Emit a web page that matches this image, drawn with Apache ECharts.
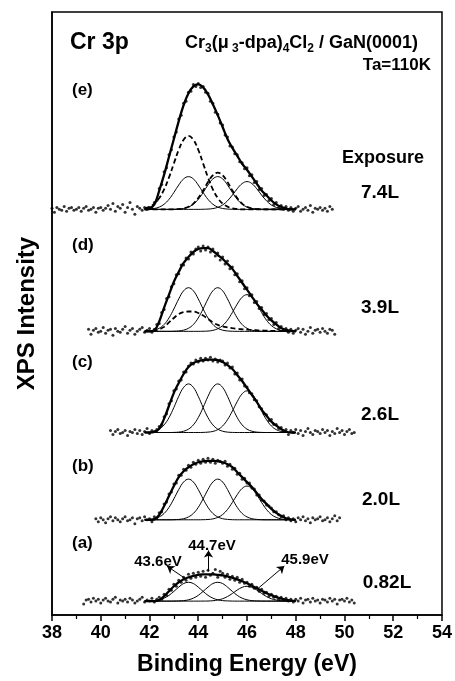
<!DOCTYPE html>
<html><head><meta charset="utf-8">
<script src="https://cdn.jsdelivr.net/npm/echarts@6/dist/echarts.min.js"></script>
<style>html,body{margin:0;padding:0;background:#fff}#c{width:455px;height:681px}</style>
</head><body><div id="c"></div>
<script>
// ---------- data (arbitrary intensity units, relative to each spectrum's baseline) ----------
const spectrumNames = ['(a)', '(b)', '(c)', '(d)', '(e)'];
const exposures = ['0.82L', '2.0L', '2.6L', '3.9L', '7.4L'];
const offsets = [14, 96, 184, 286, 409];
const peakLabels = ['43.6eV', '44.7eV', '45.9eV'];

const fitEnergy = [41.8,42.0,42.2,42.4,42.6,42.8,43.0,43.2,43.4,43.6,43.8,44.0,44.2,44.4,44.6,44.8,
  45.0,45.2,45.4,45.6,45.8,46.0,46.2,46.4,46.6,46.8,47.0,47.2,47.4,47.6,47.8,48.0];

const envA = [0,0,0,1,5,10,15,19,22,24,25.5,26.5,27,27,27,26.5,26,25,23.5,22,20,18,15.5,13,10.5,8,6,4,2.5,1.5,0.5,0];
const envB = [0,0,0.5,5,14,24,34,43,49,53,56,58,59,59.5,59.5,59,58,56,53,48,43,38,33,27,21,16,11,7,4,1.5,0.5,0];
const envC = [0,0,0.5,4,14,27,40,50,59,66,70,72,73,73.5,73.5,73,71,68,64,58,52,45,38,31,23,17,11,7,3.5,1,0,0];
const envD = [0,0,1,10,24,37,50,60,69,75,80,83,84,84,81,77,73,68,63,56,49,42,35,28,22,16,11,7,3.5,1.5,0.5,0];
const envE = [0,1,5,19,35,53,71,89,105,117,124,126,123,116,106,95,83,71,62,54,46,40,33,26,19,14,9,5,2.5,1,0,0];

const compA1 = [0.04,0.2,0.5,1.3,3.0,5.8,9.8,14.1,17.7,19,17.7,14.1,9.8,5.8,3.0,1.3,0.5,0.2,0.04,0,0,0,0,0,0,0,0,0,0,0,0,0];
const compA2 = [0,0,0,0,0,0,0.04,0.2,0.5,1.3,3.0,5.8,9.8,14.1,17.7,19,17.7,14.1,9.8,5.8,3.0,1.3,0.5,0.2,0.04,0,0,0,0,0,0,0];
const compA3 = [0,0,0,0,0,0,0,0,0,0,0,0,0.03,0.1,0.4,1.1,2.4,4.6,7.7,11.2,13.9,15,13.9,11.2,7.7,4.6,2.4,1.1,0.4,0.1,0.03,0];

const compB1 = [0.1,0.4,1.1,2.9,6.4,12.5,21.1,30.5,38.1,41,38.1,30.5,21.1,12.5,6.4,2.9,1.1,0.4,0.1,0,0,0,0,0,0,0,0,0,0,0,0,0];
const compB2 = [0,0,0,0,0,0,0.1,0.4,1.1,2.9,6.4,12.5,21.1,30.5,38.1,41,38.1,30.5,21.1,12.5,6.4,2.9,1.1,0.4,0.1,0,0,0,0,0,0,0];
const compB3 = [0,0,0,0,0,0,0,0,0,0,0,0,0.1,0.3,0.9,2.4,5.3,10.4,17.5,25.3,31.6,34,31.6,25.3,17.5,10.4,5.3,2.4,0.9,0.3,0.1,0];

const compC1 = [0.1,0.4,1.3,3.4,7.7,15.0,25.2,36.5,45.5,49,45.5,36.5,25.2,15.0,7.7,3.4,1.3,0.4,0.1,0,0,0,0,0,0,0,0,0,0,0,0,0];
const compC2 = [0,0,0,0,0,0,0.1,0.4,1.3,3.4,7.7,15.0,25.2,36.5,45.5,49,45.5,36.5,25.2,15.0,7.7,3.4,1.3,0.4,0.1,0,0,0,0,0,0,0];
const compC3 = [0,0,0,0,0,0,0,0,0,0,0,0,0.1,0.4,1.1,2.9,6.6,12.9,21.6,31.2,39.0,42,39.0,31.2,21.6,12.9,6.6,2.9,1.1,0.4,0.1,0];

const compD1 = [0.1,0.4,1.2,3.1,6.9,13.5,22.6,32.7,40.9,44,40.9,32.7,22.6,13.5,6.9,3.1,1.2,0.4,0.1,0,0,0,0,0,0,0,0,0,0,0,0,0];
const compD2 = [0,0,0,0,0,0,0.1,0.4,1.2,3.1,6.9,13.5,22.6,32.7,40.9,44,40.9,32.7,22.6,13.5,6.9,3.1,1.2,0.4,0.1,0,0,0,0,0,0,0];
const compD3 = [0,0,0,0,0,0,0,0,0,0,0,0,0.1,0.3,1.0,2.6,5.8,11.3,19.0,27.5,34.4,37,34.4,27.5,19.0,11.3,5.8,2.6,1.0,0.3,0.1,0];
const dashD  = [0,0,0.5,2,4.5,9,13.5,17.5,19.5,20,20,18.5,16,12.5,9,6.5,5,4,3.2,2.6,2.1,1.7,1.4,1.1,0.9,0.7,0.5,0.3,0.2,0.1,0,0];

const compE1 = [0.1,0.3,0.9,2.3,5.2,10.1,17.0,24.6,30.7,33,30.7,24.6,17.0,10.1,5.2,2.3,0.9,0.3,0.1,0,0,0,0,0,0,0,0,0,0,0,0,0];
const compE2 = [0,0,0,0,0,0,0.1,0.3,0.9,2.3,5.2,10.1,17.0,24.6,30.7,33,30.7,24.6,17.0,10.1,5.2,2.3,0.9,0.3,0.1,0,0,0,0,0,0,0];
const compE3 = [0,0,0,0,0,0,0,0,0,0,0,0,0.1,0.3,0.8,2.0,4.4,8.6,14.4,20.8,26.0,28,26.0,20.8,14.4,8.6,4.4,2.0,0.8,0.3,0.1,0];
const dashE1 = [1.1,2.7,5.8,11.4,20.1,32.2,46.3,60.1,70.2,74,70.2,60.1,46.3,32.2,20.1,11.4,5.8,2.7,1.1,0.4,0,0,0,0,0,0,0,0,0,0,0,0];
const dashE2 = [0,0,0,0,0,0,0.1,0.3,1.0,2.6,5.8,11.3,19.0,27.5,34.4,37,34.4,27.5,19.0,11.3,5.8,2.6,1.0,0.3,0.1,0,0,0,0,0,0,0];

const dotEnergy = [38.0,38.1,38.2,38.3,38.4,38.5,38.6,38.7,38.8,38.9,39.0,39.1,39.2,39.3,39.4,39.5,39.6,39.7,39.8,39.9,
  40.0,40.1,40.2,40.3,40.4,40.5,40.6,40.7,40.8,40.9,41.0,41.1,41.2,41.3,41.4,41.5,41.6,41.7,41.8,41.9,
  42.0,42.1,42.2,42.3,42.4,42.5,42.6,42.7,42.8,42.9,43.0,43.1,43.2,43.3,43.4,43.5,43.6,43.7,43.8,43.9,
  44.0,44.1,44.2,44.3,44.4,44.5,44.6,44.7,44.8,44.9,45.0,45.1,45.2,45.3,45.4,45.5,45.6,45.7,45.8,45.9,
  46.0,46.1,46.2,46.3,46.4,46.5,46.6,46.7,46.8,46.9,47.0,47.1,47.2,47.3,47.4,47.5,47.6,47.7,47.8,47.9,
  48.0,48.1,48.2,48.3,48.4,48.5,48.6,48.7,48.8,48.9,49.0,49.1,49.2,49.3,49.4,49.5,49.6,49.7,49.8,49.9,
  50.0,50.1,50.2,50.3,50.4];
const dotStart = [39.3, 39.8, 40.4, 39.5, 38.0];

const dotsA = [-3,1,2,-1,3,0,2,
  -2,1,3,0,-1,2,4,-2,1,0, 2,-1,3,1,-2,0,2,4,-1,1, 0,3,-1,2,4,2,7,6,12,11,
  17,15,21,19,24,21,27,23,28,24, 29,25,30,24,31,26,28,32,24,30, 28,24,27,22,25,21,24,19,22,18,
  19,15,17,13,14,10,12,8,9,5, 7,4,5,2,4,1,3,0,2,-1, 2,0,3,-2,1,2,-1,3,0,1,
  -2,2,1,-1,3,0,2,-3,1,2, 0,3,-1,1,-2];
const dotsB = [1,-2,
  2,0,-3,1,3,-1,2,0,-2,1, 3,-1,0,2,-4,1,2,-1,3,0, 1,-2,3,2,7,8,16,18,26,28,
  36,37,45,45,51,50,55,53,58,56, 60,57,61,58,62,58,61,57,60,59, 57,59,54,56,51,52,46,47,41,42,
  37,37,32,31,25,25,20,19,15,14, 12,8,8,5,3,4,0,2,-1,1, -2,2,0,3,-1,1,-3,2,0,1,
  3,-1,0,2,-2,1,4,-1,2];
const dotsC = [2,-2,1,3,-1,0,
  2,-3,1,0,3,-1,2,-2,1,4, -1,2,1,3,6,8,16,19,29,32, 42,44,52,53,61,61,67,70,69,73,
  71,75,72,75,73,76,72,74,71,73, 72,68,70,65,66,59,60,53,54,47, 46,40,39,33,32,26,24,19,18,12,
  13,8,8,4,5,1,3,-2,2,0, 3,-1,2,-3,1,4,0,-2,2,1, -1,3,0,2,-3,1,-1,4,0,2,
  -2,1,3,-1,0];
const dotsD = [2,-3,1,3,-1,
  0,4,-2,1,2,-4,3,0,-1,2, 5,-2,1,3,-3,0,2,4,-1,1, 3,-1,2,7,8,19,22,33,35,45,
  48,57,58,67,67,74,73,80,78,83, 85,81,86,82,85,80,83,76,79,72, 75,68,71,63,65,57,58,50,51,43,
  44,36,37,29,30,23,24,17,18,12, 13,7,9,3,5,1,3,-1,2,-2, 1,3,-1,2,-3,0,4,-2,1,2,
  -1,3,0,-2,2,1,-3];
const dotsE = [1,-3,2,0,-1,3,-2,1,2,-1, 0,2,-2,1,3,-1,0,2,-3,1, 2,-1,1,4,0,6,-2,3,1,5,
  -3,2,7,0,-5,3,1,-1,2,0, 2,1,7,9,21,25,38,42,55,60, 73,78,91,95,107,109,118,119,126,124,
  127,123,124,118,117,109,107,98,96,87, 85,75,73,64,63,56,55,48,47,41, 42,34,35,27,28,20,21,14,15,9,
  11,5,7,2,4,0,3,-1,2,-2, 1,3,-2,0,2,-1,4,-3,1,0, 2,-1,1,-2,3,0];

// arrows for peak labels in spectrum (a): [from, to] in data coordinates
const peakArrows = [
  [[43.47, 36.7], [42.72, 49.3]],
  [[44.42, 44.0], [44.42, 65.0]],
  [[46.45, 26.7], [47.53, 49.3]]
];

// ---------- build ----------
const spectra = [
  { env: envA, comps: [compA1, compA2, compA3], dashed: [], dots: dotsA },
  { env: envB, comps: [compB1, compB2, compB3], dashed: [], dots: dotsB },
  { env: envC, comps: [compC1, compC2, compC3], dashed: [], dots: dotsC },
  { env: envD, comps: [compD1, compD2, compD3], dashed: [dashD], dots: dotsD },
  { env: envE, comps: [compE1, compE2, compE3], dashed: [dashE1, dashE2], dots: dotsE }
];

const FONT = '"Liberation Sans", Arial, sans-serif';
const series = [];
spectra.forEach((s, k) => {
  const off = offsets[k];
  const toLine = arr => fitEnergy.map((e, i) => [e, off + arr[i]]);
  s.comps.forEach(c => series.push({
    type: 'line', data: toLine(c), showSymbol: false, smooth: 0.4, silent: true,
    lineStyle: { color: '#000', width: 1 }, z: 2
  }));
  s.dashed.forEach(c => series.push({
    type: 'line', data: toLine(c), showSymbol: false, smooth: 0.4, silent: true,
    lineStyle: { color: '#000', width: 1.8, type: [5, 3] }, z: 2
  }));
  const envSeries = {
    type: 'line', data: toLine(s.env), showSymbol: false, smooth: 0.4, silent: true,
    lineStyle: { color: '#000', width: 2.3 }, z: 3
  };
  if (k === 0) {
    envSeries.markLine = {
      silent: true, symbol: ['none', 'arrow'], symbolSize: 7,
      label: { show: false },
      lineStyle: { color: '#000', width: 1, type: 'solid' },
      data: peakArrows.map(a => [{ coord: a[0] }, { coord: a[1] }])
    };
  }
  series.push(envSeries);
  const i0 = dotEnergy.indexOf(dotStart[k]);
  series.push({
    type: 'scatter', silent: true, symbolSize: 3, z: 4,
    itemStyle: { color: '#000' },
    data: s.dots.map((v, i) => [dotEnergy[i0 + i], off + v])
  });
});

const txt = (x, y, text, size, align) => ({
  type: 'text', x: x, y: y, silent: true,
  style: { text: text, font: 'bold ' + size + 'px ' + FONT, fill: '#000',
           align: align || 'left', verticalAlign: 'middle' }
});

const labelY = [543, 466, 362, 245, 90];
const exposureY = [583, 500, 415, 308, 193];
const exposureX = [387, 381, 380, 380, 380];
const graphics = [];
spectrumNames.forEach((n, k) => graphics.push(txt(72, labelY[k], n, 17)));
exposures.forEach((n, k) => graphics.push(txt(exposureX[k], exposureY[k], n, 19, 'center')));
graphics.push(txt(383, 158, 'Exposure', 18, 'center'));
graphics.push(txt(70, 43, 'Cr 3p', 23));
graphics.push(txt(431, 65, 'Ta=110K', 17, 'right'));
graphics.push(txt(158, 562, peakLabels[0], 15, 'center'));
graphics.push(txt(212, 546, peakLabels[1], 15, 'center'));
graphics.push(txt(305, 560, peakLabels[2], 15, 'center'));
graphics.push({
  type: 'text', x: 185, y: 43, silent: true,
  style: {
    text: '{m|Cr}{s|3}{m|(μ}{s| 3}{m|-dpa)}{s|4}{m|Cl}{s|2}{m| / GaN(0001)}',
    fill: '#000', align: 'left', verticalAlign: 'middle',
    rich: {
      m: { font: 'bold 18px ' + FONT, fill: '#000', lineHeight: 24 },
      s: { font: 'bold 12px ' + FONT, fill: '#000', lineHeight: 12, verticalAlign: 'bottom' }
    }
  }
});

const chart = echarts.init(document.getElementById('c'), null, { renderer: 'canvas' });
chart.setOption({
  animation: false,
  backgroundColor: '#fff',
  grid: { left: 52, right: 9, top: 12, bottom: 61, show: true, borderColor: '#000', borderWidth: 1.5 },
  xAxis: {
    type: 'value', min: 38, max: 54, interval: 2,
    name: 'Binding Energy (eV)', nameLocation: 'middle', nameGap: 38,
    nameTextStyle: { fontFamily: FONT, fontWeight: 'bold', fontSize: 23, color: '#000' },
    axisLine: { show: true, lineStyle: { color: '#000', width: 1.5 } },
    axisTick: { show: true, inside: false, length: 6, lineStyle: { color: '#000', width: 1.5 } },
    minorTick: { show: true, splitNumber: 2, length: 4, lineStyle: { color: '#000', width: 1.2 } },
    axisLabel: { fontFamily: FONT, fontWeight: 'bold', fontSize: 18, color: '#000', margin: 9 },
    splitLine: { show: false }
  },
  yAxis: {
    type: 'value', min: 0, max: 608,
    name: 'XPS Intensity', nameLocation: 'middle', nameGap: 13,
    nameTextStyle: { fontFamily: FONT, fontWeight: 'bold', fontSize: 24, color: '#000' },
    axisLine: { show: true, lineStyle: { color: '#000', width: 1.5 } },
    axisTick: { show: false }, axisLabel: { show: false }, splitLine: { show: false }
  },
  graphic: graphics,
  series: series
});
</script></body></html>
